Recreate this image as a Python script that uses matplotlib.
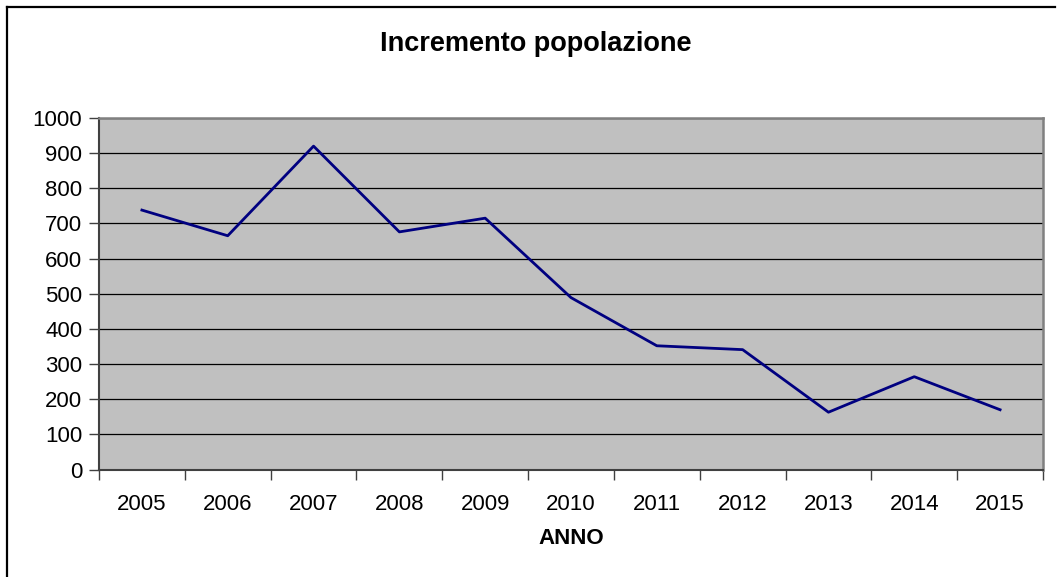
import matplotlib
matplotlib.use("Agg")
import matplotlib.pyplot as plt
from matplotlib.lines import Line2D

years = ["2005", "2006", "2007", "2008", "2009", "2010",
         "2011", "2012", "2013", "2014", "2015"]
incremento = [738, 665, 920, 676, 715, 489, 352, 341, 163, 264, 170]
y_ticks = [0, 100, 200, 300, 400, 500, 600, 700, 800, 900, 1000]

plt.rcParams["font.family"] = ["Liberation Sans", "DejaVu Sans"]

W, H = 1057, 577
fig = plt.figure(figsize=(W / 100, H / 100), dpi=100)

# outer chart border (top and left only visible)
fig.add_artist(Line2D([7 / W, 1055 / W], [1 - 7 / H, 1 - 7 / H],
                      transform=fig.transFigure, color="black", lw=1.6))
fig.add_artist(Line2D([7 / W, 7 / W], [0, 1 - 7 / H],
                      transform=fig.transFigure, color="black", lw=1.6))

ax = fig.add_axes([99 / W, 1 - 469.5 / H, (1043 - 99) / W, (469.5 - 118) / H])
ax.set_facecolor("#c0c0c0")

x = list(range(len(years)))
ax.plot(x, incremento, color="#000080", lw=2.0, zorder=3)

ax.set_xlim(-0.5, len(years) - 0.5)
ax.set_ylim(0, 1000)
ax.set_yticks(y_ticks)
ax.set_yticklabels([str(v) for v in y_ticks], fontsize=16)
ax.yaxis.grid(True, color="black", lw=0.9)
ax.set_axisbelow(True)

# category ticks between labels, labels centred on categories
ax.set_xticks([i - 0.5 for i in range(len(years) + 1)])
ax.set_xticklabels([])
ax.set_xticks(x, minor=True)
ax.set_xticklabels(years, minor=True, fontsize=16)
ax.tick_params(axis="x", which="minor", length=0, pad=18)
ax.tick_params(axis="x", which="major", length=7, width=1, color="#404040")
ax.tick_params(axis="y", length=7, width=1, color="#404040", pad=5)

for side in ("left", "bottom"):
    ax.spines[side].set_color("#404040")
    ax.spines[side].set_linewidth(1.5)
for side in ("top", "right"):
    ax.spines[side].set_color("#808080")
    ax.spines[side].set_linewidth(1.8)

ax.set_xlabel("ANNO", fontsize=16, fontweight="bold", labelpad=9)
fig.text(536 / W, 1 - 44 / H, "Incremento popolazione", fontsize=19.5,
         fontweight="bold", ha="center", va="center")

fig.savefig("out.png", dpi=100)
